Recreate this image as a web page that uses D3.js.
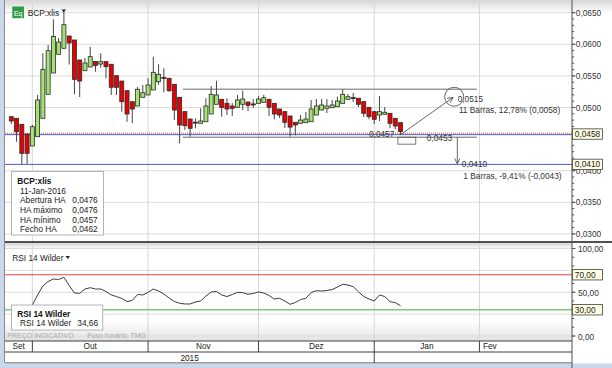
<!DOCTYPE html>
<html><head><meta charset="utf-8">
<script src="https://cdn.jsdelivr.net/npm/d3@7"></script>
<style>
body{margin:0;background:#fff;}
svg{display:block;font-family:"Liberation Sans",Arial,sans-serif;}
</style>
</head><body>
<svg id="c" width="612" height="368"></svg>
<script>
// ---------- DATA ----------
const dates = ["2015-09-25","2015-09-28","2015-09-29","2015-09-30",
"2015-10-01","2015-10-02","2015-10-05","2015-10-06","2015-10-07","2015-10-08","2015-10-09","2015-10-12","2015-10-13","2015-10-14","2015-10-15","2015-10-16","2015-10-19","2015-10-20","2015-10-21","2015-10-22","2015-10-23","2015-10-26","2015-10-27","2015-10-28","2015-10-29","2015-10-30",
"2015-11-02","2015-11-03","2015-11-04","2015-11-05","2015-11-06","2015-11-09","2015-11-10","2015-11-11","2015-11-12","2015-11-13","2015-11-16","2015-11-17","2015-11-18","2015-11-19","2015-11-20","2015-11-23","2015-11-24","2015-11-25","2015-11-26","2015-11-27","2015-11-30",
"2015-12-01","2015-12-02","2015-12-03","2015-12-04","2015-12-07","2015-12-08","2015-12-09","2015-12-10","2015-12-11","2015-12-14","2015-12-15","2015-12-16","2015-12-17","2015-12-18","2015-12-21","2015-12-22","2015-12-23","2015-12-24","2015-12-28","2015-12-29","2015-12-30","2015-12-31",
"2016-01-04","2016-01-05","2016-01-06","2016-01-07","2016-01-08","2016-01-11"];

const haOpen = [.04854,.04829,.04734,.04581,.04391,.04538,.04829,.05209,.05546,.05842,.05937,.06131,.06068,.05752,.05582,.05641,.05728,.05688,.05725,.05684,.05503,.05419,.05266,.05092,.05024,.05161,
.05198,.05277,.05408,.05475,.05462,.05367,.05161,.04934,.04818,.04768,.04750,.04775,.04897,.05051,.05130,.05066,.05024,.05003,.05051,.05087,.05057,
.05066,.05082,.05130,.05066,.04976,.04934,.04866,.04766,.04750,.04759,.04775,.04881,.04960,.04987,.04997,.05013,.05066,.05130,.05157,.05146,.05092,.05003,
.04934,.04881,.04892,.04908,.04829,.0476];
const haHigh = [.04866,.04829,.04734,.04581,.04723,.05198,.05858,.05989,.06396,.06100,.06511,.06131,.06068,.05752,.05783,.05962,.05728,.05858,.05725,.05684,.05503,.05419,.05266,.05092,.05324,.05356,
.05462,.05804,.05684,.05620,.05462,.05367,.05161,.04934,.04818,.04829,.04987,.05146,.05340,.05424,.05130,.05146,.05071,.05198,.05266,.05087,.05134,
.05182,.05200,.05130,.05066,.04976,.04934,.04866,.04766,.04881,.04929,.05119,.05134,.05134,.05134,.05119,.05171,.05288,.05214,.05229,.05146,.05092,.05003,
.04934,.05182,.05008,.04908,.04829,.0476];
const haLow = [.04739,.04459,.04100,.04110,.04391,.04538,.04829,.05209,.05546,.05842,.05937,.05680,.05209,.05166,.05582,.05641,.05566,.05630,.05462,.05198,.05198,.04934,.04775,.04750,.05024,.05161,
.05198,.05277,.05360,.05241,.05245,.04802,.04434,.04644,.04538,.04671,.04750,.04775,.04897,.05051,.04854,.04881,.04866,.05003,.04960,.04945,.04992,
.05066,.05082,.04866,.04813,.04834,.04676,.04540,.04560,.04750,.04759,.04775,.04881,.04960,.04913,.04997,.05013,.05066,.05130,.05087,.05008,.04850,.04813,
.04739,.04786,.04892,.04676,.04655,.0457];
const haClose = [.04786,.04617,.04275,.04275,.04696,.05119,.05604,.05899,.06123,.06036,.06310,.06021,.05446,.05419,.05704,.05804,.05665,.05725,.05646,.05320,.05320,.05092,.04897,.04976,.05288,.05234,
.05356,.05557,.05525,.05470,.05266,.04960,.04723,.04712,.04671,.04764,.04786,.05024,.05209,.05198,.05003,.04976,.04987,.05119,.05134,.05035,.05053,
.05134,.05155,.05003,.04897,.04881,.04766,.04690,.04723,.04802,.04818,.04976,.05024,.05040,.05024,.05040,.05103,.05209,.05171,.05153,.05051,.04908,.04854,
.04813,.04934,.04924,.04750,.04707,.0462];

const rsi14 = [26.3,24,21,27,35.4,46.9,57.1,62.3,65.1,64.6,67.1,57.7,49.1,48.8,53.7,55.2,53.7,53.7,50.9,46.9,45.1,42.9,39.4,40.6,47.4,46.9,
49.9,53.7,51.4,48,43.4,39.4,37.4,36.6,36.6,38.9,40,45.7,50.3,50.9,46.9,45.1,47.4,49.9,49.5,47.7,48.6,
50.3,49.1,46.3,42.3,43.1,40,36.2,38.3,41.7,43.1,49.7,51.8,51.4,52,53.1,56,59.1,58.3,56.3,50.6,45.1,42.3,
40,46.9,45.1,39.2,38.1,34.66];

const priceTicks = [0.030,0.035,0.040,0.050,0.055,0.060,0.065];
const priceTickLabels = ["0,0300","0,0350","0,0400","0,0500","0,0550","0,0600","0,0650"];
const rsiTicks = [0,50,100];
const rsiTickLabels = ["0,00","50,00","100,00"];
const rsiGrid = [0,25,50,75,100];
const rsiLevels = [70,30];
const rsiLevelLabels = ["70,00","30,00"];
const monthLabels = ["Set","Out","Nov","Dez","Jan","Fev"];
const monthStartIdx = [-1.2,4,26,47,69,89];
const yearLabels = ["2015"];
const markerLevels = [0.0458,0.0410];
const markerLabels = ["0,0458","0,0410"];
const rangeLevels = [0.0529,0.0453];
const rangeSpan = [32.6,88.5];
const selBox = {fromIdx:73.5, toIdx:76.9, top:0.0453, bottom:0.0442};
const upMove = {fromIdx:74, fromPrice:0.0457, toIdx:84.0, toPrice:0.0516, circleIdx:84.2, circlePrice:0.0517, level:"0,0515", text:"11 Barras, 12,78% (0,0058)"};
const downMove = {idx:84.8, fromPrice:0.0453, toPrice:0.0410, level:"0,0410", text:"1 Barras, -9,41% (-0,0043)", rangeLabel:"0,0453"};
const lowLabel = "0,0457";
const legendNames = ["Abertura HA","HA máximo","HA mínimo","Fecho HA"];

// ---------- SCALES ----------
const svg = d3.select("#c");
const X0 = 5, X1 = 572;
const x = d3.scaleLinear().domain([-1.2,106.6]).range([X0,X1]);
const y = d3.scaleLinear().domain([0.030,0.065]).range([233.9,12.7]);
const yr = d3.scaleLinear().domain([0,100]).range([336,248.5]);
const fmt4 = v => d3.format(".4f")(v).replace(".",",");
const fmt2 = v => d3.format(".2f")(v).replace(".",",");
const FS = 8.3;

const defs = svg.append("defs");
function grad(id, c1, c2){
  const g = defs.append("linearGradient").attr("id",id).attr("x1",0).attr("y1",0).attr("x2",0).attr("y2",1);
  g.append("stop").attr("offset","0").attr("stop-color",c1);
  g.append("stop").attr("offset","1").attr("stop-color",c2);
}
grad("gTop","#d6d6d6","#ffffff");
grad("gBot","#ffffff","#e2e2e2");
defs.append("clipPath").attr("id","clipMain").append("rect").attr("x",X0).attr("y",0).attr("width",X1-X0).attr("height",241);
defs.append("clipPath").attr("id","clipRsi").append("rect").attr("x",X0).attr("y",243).attr("width",X1-X0).attr("height",98);

// background frames
svg.append("rect").attr("x",0).attr("y",0).attr("width",612).attr("height",368).attr("fill","#ffffff");
svg.append("rect").attr("x",X0).attr("y",0).attr("width",X1-X0+40).attr("height",13).attr("fill","url(#gTop)");
svg.append("rect").attr("x",X0).attr("y",243).attr("width",X1-X0).attr("height",6).attr("fill","url(#gTop)");
svg.append("rect").attr("x",X0).attr("y",321).attr("width",X1-X0).attr("height",20).attr("fill","url(#gBot)");

// ---------- MAIN PANEL ----------
const main = svg.append("g").attr("clip-path","url(#clipMain)");
main.selectAll("line.hg").data(priceTicks).join("line")
  .attr("x1",X0).attr("x2",X1).attr("y1",d=>y(d)).attr("y2",d=>y(d))
  .attr("stroke","#dcdcdc").attr("stroke-width",1);
main.selectAll("line.vg").data(monthStartIdx.slice(1)).join("line")
  .attr("x1",d=>x(d)).attr("x2",d=>x(d)).attr("y1",0).attr("y2",241)
  .attr("stroke","#d6d6d6").attr("stroke-width",1);

// range lines
main.selectAll("line.rng").data(rangeLevels).join("line")
  .attr("x1",x(rangeSpan[0])).attr("x2",x(rangeSpan[1]))
  .attr("y1",d=>y(d)).attr("y2",d=>y(d)).attr("stroke","#6a6a6a").attr("stroke-width",1);

// marker lines
main.append("line").attr("x1",X0).attr("x2",X1).attr("y1",y(markerLevels[0])-0.8).attr("y2",y(markerLevels[0])-0.8)
  .attr("stroke","#e06060").attr("stroke-width",1).attr("stroke-dasharray","1,1");
markerLevels.forEach((v,k)=>{
  main.append("line").attr("x1",X0).attr("x2",X1).attr("y1",y(v)+(k==0?0.6:0)).attr("y2",y(v)+(k==0?0.6:0))
   .attr("stroke","#4a5cc4").attr("stroke-width",1);
});

// candles
const idx = d3.range(dates.length);
main.selectAll("line.wick").data(idx).join("line")
  .attr("x1",i=>x(i)).attr("x2",i=>x(i)).attr("y1",i=>y(haHigh[i])).attr("y2",i=>y(haLow[i]))
  .attr("stroke","#454545").attr("stroke-width",1);
main.selectAll("rect.body").data(idx).join("rect")
  .attr("x",i=>x(i)-2).attr("width",4)
  .attr("y",i=>y(Math.max(haOpen[i],haClose[i])))
  .attr("height",i=>Math.max(1,Math.abs(y(haOpen[i])-y(haClose[i]))))
  .attr("fill",i=>haClose[i]>haOpen[i]?"#a4e272":(haClose[i]<haOpen[i]?"#e80000":"#333"))
  .attr("stroke","#2a2a2a").attr("stroke-width",0.8);

// annotations
const ann = svg.append("g");
ann.append("rect").attr("x",x(selBox.fromIdx)).attr("y",y(selBox.top))
  .attr("width",x(selBox.toIdx)-x(selBox.fromIdx)).attr("height",y(selBox.bottom)-y(selBox.top))
  .attr("fill","none").attr("stroke","#555").attr("stroke-width",0.8);
const ax0 = x(upMove.fromIdx), ay0 = y(upMove.fromPrice), ax1 = x(upMove.toIdx), ay1 = y(upMove.toPrice);
ann.append("line").attr("x1",ax0).attr("y1",ay0).attr("x2",ax1).attr("y2",ay1).attr("stroke","#555").attr("stroke-width",0.9);
const ang = Math.atan2(ay1-ay0, ax1-ax0);
function head(px,py,a){
  const L=6, w=0.45;
  return `M${px-L*Math.cos(a-w)},${py-L*Math.sin(a-w)}L${px},${py}L${px-L*Math.cos(a+w)},${py-L*Math.sin(a+w)}`;
}
ann.append("path").attr("d",head(ax1,ay1,ang)).attr("fill","none").attr("stroke","#555").attr("stroke-width",0.9);
ann.append("circle").attr("cx",x(upMove.circleIdx)).attr("cy",y(upMove.circlePrice)).attr("r",9.5)
  .attr("fill","none").attr("stroke","#555").attr("stroke-width",0.9);
ann.append("text").attr("x",x(upMove.circleIdx)+3.5).attr("y",y(0.0515)+3.5).attr("font-size",FS).attr("fill","#333").text(upMove.level);
ann.append("text").attr("x",x(upMove.circleIdx)+4.7).attr("y",y(0.0515)+15).attr("font-size",FS).attr("fill","#333").text(upMove.text);
const dx = x(downMove.idx);
ann.append("line").attr("x1",dx).attr("x2",dx).attr("y1",y(downMove.fromPrice)).attr("y2",y(downMove.toPrice)-0.5).attr("stroke","#555").attr("stroke-width",0.9);
ann.append("path").attr("d",head(dx,y(downMove.toPrice)-0.5,Math.PI/2)).attr("fill","none").attr("stroke","#555").attr("stroke-width",0.9);
ann.append("text").attr("x",dx-30.5).attr("y",y(downMove.fromPrice)+3.8).attr("font-size",FS).attr("fill","#333").text(downMove.rangeLabel);
ann.append("text").attr("x",dx+4.5).attr("y",y(downMove.toPrice)+3).attr("font-size",FS).attr("fill","#333").text(downMove.level);
ann.append("text").attr("x",dx+6).attr("y",y(downMove.toPrice)+14.5).attr("font-size",FS).attr("fill","#333").text(downMove.text);
ann.append("text").attr("x",x(68.0)).attr("y",y(haLow[74])+2.5).attr("font-size",FS).attr("fill","#333").text(lowLabel);

// header
svg.append("rect").attr("x",12.3).attr("y",6.5).attr("width",11.7).attr("height",11.7).attr("fill","#2f9c46");
svg.append("text").attr("x",18.2).attr("y",15.5).attr("text-anchor","middle").attr("font-size",7).attr("fill","#fff").text("Eq");
svg.append("text").attr("x",27.7).attr("y",16).attr("font-size",FS).attr("fill","#222").text("BCP:xlis");
svg.append("path").attr("d","M61.5,9.5L66,9.5L63.75,12.5Z").attr("fill","#222");

// main legend
const lg = svg.append("g");
lg.append("rect").attr("x",11.5).attr("y",171.5).attr("width",92).attr("height",63.5).attr("fill","#fff").attr("stroke","#b4b4b4");
lg.append("text").attr("x",17.3).attr("y",184).attr("font-size",FS).attr("font-weight","bold").attr("fill","#111").text("BCP:xlis");
const lastD = new Date(dates[74]+"T00:00:00");
lg.append("text").attr("x",20).attr("y",193.7).attr("font-size",FS).attr("fill","#222")
  .text(d3.timeFormat("%d")(lastD)+"-Jan-"+d3.timeFormat("%Y")(lastD));
const legVals = [haOpen[74],haHigh[74],haLow[74],haClose[74]];
legendNames.forEach((n,k)=>{
  lg.append("text").attr("x",20).attr("y",203.3+k*9.6).attr("font-size",FS).attr("fill","#222").text(n);
  lg.append("text").attr("x",72.3).attr("y",203.3+k*9.6).attr("font-size",FS).attr("fill","#222").text(fmt4(legVals[k]));
});

// separators
svg.append("rect").attr("x",X0).attr("y",241).attr("width",607).attr("height",2).attr("fill","#505050");

// ---------- RSI PANEL ----------
const rp = svg.append("g").attr("clip-path","url(#clipRsi)");
rp.selectAll("line.rg").data(rsiGrid).join("line")
  .attr("x1",X0).attr("x2",X1).attr("y1",d=>yr(d)).attr("y2",d=>yr(d)).attr("stroke","#dcdcdc");
rp.selectAll("line.vg").data(monthStartIdx.slice(1)).join("line")
  .attr("x1",d=>x(d)).attr("x2",d=>x(d)).attr("y1",243).attr("y2",341).attr("stroke","#d6d6d6");
rp.append("line").attr("x1",X0).attr("x2",X1).attr("y1",yr(70)).attr("y2",yr(70)).attr("stroke","#e84040").attr("stroke-width",1);
rp.append("line").attr("x1",X0).attr("x2",X1).attr("y1",yr(30)).attr("y2",yr(30)).attr("stroke","#7cc87c").attr("stroke-width",1.6);
rp.append("path").datum(idx).attr("d",d3.line().x(i=>x(i)).y(i=>yr(rsi14[i])))
  .attr("fill","none").attr("stroke","#3c3c3c").attr("stroke-width",1);

svg.append("text").attr("x",12.3).attr("y",260.5).attr("font-size",FS).attr("fill","#222").text("RSI 14 Wilder");
svg.append("path").attr("d","M65.5,256L70,256L67.75,259Z").attr("fill","#222");

const rl = svg.append("g");
rl.append("rect").attr("x",11.5).attr("y",305).attr("width",91.2).attr("height",25).attr("fill","#fff").attr("stroke","#b4b4b4");
rl.append("text").attr("x",17.3).attr("y",316.8).attr("font-size",FS).attr("font-weight","bold").attr("fill","#111").text("RSI 14 Wilder");
rl.append("text").attr("x",20).attr("y",326.2).attr("font-size",FS).attr("fill","#222").text("RSI 14 Wilder");
rl.append("text").attr("x",77.3).attr("y",326.2).attr("font-size",FS).attr("fill","#222").text(fmt2(rsi14[74]));

svg.append("text").attr("x",7.3).attr("y",338.3).attr("font-size",7).attr("fill","#a8a8a8").text("PREÇO INDICATIVO");
svg.append("text").attr("x",87.3).attr("y",338.3).attr("font-size",7).attr("fill","#a8a8a8").text("Fuso horário: TMG");

// ---------- TIME AXIS ----------
const ta = svg.append("g");
ta.append("line").attr("x1",X0).attr("x2",X1).attr("y1",341).attr("y2",341).attr("stroke","#404040");
ta.append("line").attr("x1",X0).attr("x2",X1).attr("y1",352).attr("y2",352).attr("stroke","#404040");
ta.append("line").attr("x1",X0).attr("x2",X1).attr("y1",363).attr("y2",363).attr("stroke","#404040");
monthStartIdx.slice(1).forEach((d,k)=>{
  const full = monthLabels[k+1]==="Jan";
  ta.append("line").attr("x1",x(d)).attr("x2",x(d)).attr("y1",341).attr("y2",full?363:352).attr("stroke","#404040");
});
monthLabels.forEach((m,k)=>{
  const a = Math.max(X0,x(monthStartIdx[k]));
  if(k<monthLabels.length-1){
    const b = x(monthStartIdx[k+1]);
    ta.append("text").attr("x",(a+b)/2).attr("y",349.3).attr("text-anchor","middle").attr("font-size",FS).attr("fill","#222").text(m);
  } else {
    ta.append("text").attr("x",a+3.5).attr("y",349.3).attr("font-size",FS).attr("fill","#222").text(m);
  }
});
ta.append("text").attr("x",(X0+x(69))/2).attr("y",360.5).attr("text-anchor","middle").attr("font-size",FS).attr("fill","#222").text(yearLabels[0]);

// frame strips
svg.append("rect").attr("x",0).attr("y",0).attr("width",4).attr("height",368).attr("fill","#c9d7ea");
svg.append("rect").attr("x",0).attr("y",363.5).attr("width",612).attr("height",4.5).attr("fill","#c9d7ea");
svg.append("line").attr("x1",4.5).attr("x2",4.5).attr("y1",0).attr("y2",363).attr("stroke","#8a8a8a");

// ---------- RIGHT AXES ----------
const ra = svg.append("g");
ra.append("line").attr("x1",X1).attr("x2",X1).attr("y1",0).attr("y2",368).attr("stroke","#505050");
d3.range(30,66).map(v=>v/1000).forEach(v=>{
  ra.append("line").attr("x1",X1).attr("x2",X1+2.2).attr("y1",y(v)).attr("y2",y(v)).attr("stroke","#505050");
});
priceTicks.forEach((v,k)=>{
  ra.append("line").attr("x1",X1).attr("x2",X1+3.5).attr("y1",y(v)).attr("y2",y(v)).attr("stroke","#505050");
  ra.append("text").attr("x",X1+3.8).attr("y",y(v)+3).attr("font-size",FS).attr("fill","#333").text(priceTickLabels[k]);
});
d3.range(0,101,10).forEach(v=>{
  ra.append("line").attr("x1",X1).attr("x2",X1+2.2).attr("y1",yr(v)).attr("y2",yr(v)).attr("stroke","#505050");
});
rsiTicks.forEach((v,k)=>{
  ra.append("line").attr("x1",X1).attr("x2",X1+3.5).attr("y1",yr(v)).attr("y2",yr(v)).attr("stroke","#505050");
  ra.append("text").attr("x",X1+6).attr("y",yr(v)+3.5).attr("font-size",FS).attr("fill","#333").text(rsiTickLabels[k]);
});
function tag(yy,label){
  ra.append("rect").attr("x",X1+0.5).attr("y",yy-5.2).attr("width",30).attr("height",10.4)
    .attr("fill","#ffffe1").attr("stroke","#404040").attr("stroke-width",0.8);
  ra.append("text").attr("x",X1+2.8).attr("y",yy+3).attr("font-size",FS).attr("fill","#222").text(label);
}
markerLevels.forEach((v,k)=>tag(y(v),markerLabels[k]));
rsiLevels.forEach((v,k)=>tag(yr(v),rsiLevelLabels[k]));
</script>
</body></html>
